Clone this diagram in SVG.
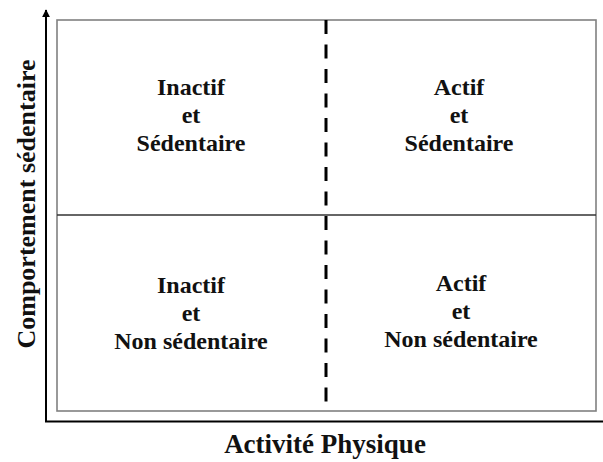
<svg xmlns="http://www.w3.org/2000/svg" width="603" height="462" viewBox="0 0 603 462">
<style>
.q{font-family:"Liberation Serif","Times New Roman",serif;font-weight:bold;font-size:24px;fill:#111;text-anchor:middle}
.ax{font-family:"Liberation Serif","Times New Roman",serif;font-weight:bold;fill:#111;text-anchor:middle}
</style>
<defs>
<marker id="arr" viewBox="0 0 10 10" refX="9" refY="5" markerWidth="4" markerHeight="5" orient="auto" markerUnits="strokeWidth">
<path d="M0,0 L10,5 L0,10 z" fill="#000"/>
</marker>
</defs>
<rect width="603" height="462" fill="#fff"/>
<g id="connectors">
<line x1="46" y1="422" x2="46" y2="10" stroke="#000" stroke-width="2" marker-end="url(#arr)"/>
<line x1="45" y1="421.5" x2="603" y2="421.5" stroke="#000" stroke-width="2.2"/>
</g>
<g id="frame">
<rect x="57" y="20" width="539" height="391" fill="none" stroke="#808080" stroke-width="1.6"/>
<line x1="57" y1="215" x2="596" y2="215" stroke="#333" stroke-width="1.3"/>
<line x1="326" y1="20" x2="326" y2="411" stroke="#000" stroke-width="3" stroke-dasharray="14,10.5"/>
</g>
<g id="q-inactif-sedentaire">
<text class="q" x="191" y="95">Inactif</text>
<text class="q" x="191" y="123">et</text>
<text class="q" x="191" y="151">Sédentaire</text>
</g>
<g id="q-actif-sedentaire">
<text class="q" x="459" y="95">Actif</text>
<text class="q" x="459" y="123">et</text>
<text class="q" x="459" y="151">Sédentaire</text>
</g>
<g id="q-inactif-non-sedentaire">
<text class="q" x="191" y="293">Inactif</text>
<text class="q" x="191" y="321">et</text>
<text class="q" x="191" y="349">Non sédentaire</text>
</g>
<g id="q-actif-non-sedentaire">
<text class="q" x="461" y="291">Actif</text>
<text class="q" x="461" y="319">et</text>
<text class="q" x="461" y="347">Non sédentaire</text>
</g>
<g id="axis-x-label">
<text class="ax" x="325" y="453" font-size="27">Activité Physique</text>
</g>
<g id="axis-y-label">
<text class="ax" transform="translate(35,204) rotate(-90)" font-size="26">Comportement sédentaire</text>
</g>
</svg>
